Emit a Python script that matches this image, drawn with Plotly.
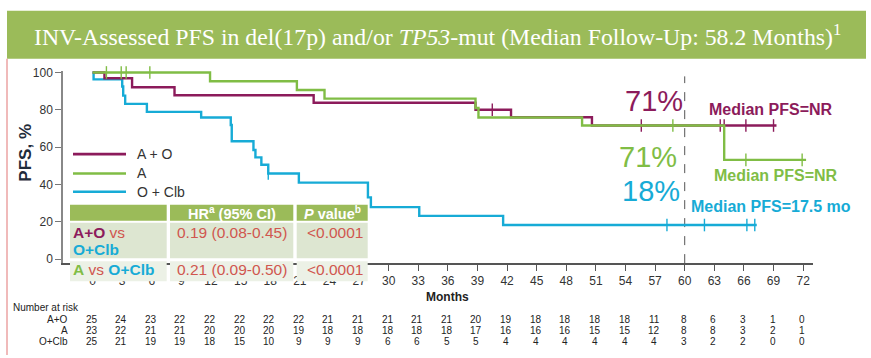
import plotly.graph_objects as go

W, H = 871, 358

# ---------------- data ----------------
month_ticks = list(range(0, 73, 3))
pfs_ticks = [0, 20, 40, 60, 80, 100]
pfs_tick_text = ["0", "20", "40", "60", "80", "100"]

series_names = ["A + O", "A", "O + Clb"]

ao_time = [0, 1.2, 4.0, 8.3, 22.4, 38.8, 42.4, 50.6, 69.3]
ao_pfs = [100, 96.9, 92.1, 87.8, 83.8, 80.0, 76.0, 71.6, 71.6]
ao_cens = [40.5, 55.6, 63.6, 64.0, 66.2, 69.0]

a_time = [0, 11.9, 20.7, 23.5, 38.8, 39.1, 49.6, 64.0, 72.3]
a_pfs = [100, 95.3, 90.6, 86.0, 81.0, 75.9, 71.6, 53.2, 53.2]
a_cens = [1.4, 2.9, 3.4, 5.8, 58.8, 66.2, 71.9]

oc_time = [0, 0.1, 3.0, 3.1, 3.3, 5.5, 11.0, 14.0, 14.1, 16.3, 16.5, 17.1, 17.8,
           20.9, 27.9, 28.2, 33.1, 41.6, 67.3]
oc_pfs = [100, 96.3, 92.5, 87.6, 83.2, 78.9, 75.9, 71.9, 63.2, 58.5, 54.5, 50.6, 45.9,
          41.0, 33.1, 27.9, 23.2, 18.3, 18.3]
oc_cens = [17.8, 58.2, 62.0, 66.3, 67.1]

risk_labels = ["A+O", "A", "O+Clb"]
risk_ao = [25, 24, 23, 22, 22, 22, 22, 22, 21, 21, 21, 21, 21, 20, 19, 18, 18, 18, 18, 11, 8, 6, 3, 1, 0]
risk_a = [23, 22, 21, 21, 20, 20, 20, 19, 18, 18, 18, 18, 18, 17, 16, 16, 16, 15, 15, 12, 8, 8, 3, 2, 1]
risk_oc = [25, 21, 19, 19, 18, 15, 10, 9, 9, 9, 6, 6, 5, 5, 4, 4, 4, 4, 4, 4, 3, 2, 2, 0, 0]

pct_labels = ["71%", "71%", "18%"]
median_labels = ["Median PFS=NR", "Median PFS=NR", "Median PFS=17.5 mo"]

hr_rows = [("0.19 (0.08-0.45)", "<0.0001"), ("0.21 (0.09-0.50)", "<0.0001")]

# ---------------- style ----------------
MAROON = "#8c1b5b"
GREEN = "#80bd45"
CYAN = "#17abd6"
SALMON = "#d0564f"
HEAD = "#9bbb59"
colors = [MAROON, GREEN, CYAN]
NARROW = "Liberation Sans Narrow, Arial Narrow, Liberation Sans, Arial"
SANS = "Liberation Sans, Arial"


def px(x):
    return x / W


def py(y):
    return 1 - y / H


def step_value(times, vals, t):
    v = vals[0]
    for ti, vi in zip(times, vals):
        if ti <= t:
            v = vi
    return v


annotations = []
shapes = []


def txt(x, y, text, size, color, family=SANS, xanchor="center", xref="paper", **kw):
    annotations.append(dict(xref=xref, yref="paper", x=x if xref != "paper" else px(x), y=py(y),
                            xanchor=xanchor, yanchor="middle", showarrow=False, text=text, borderpad=0,
                            font=dict(family=family, size=size, color=color), **kw))


fig = go.Figure()

# draw order: cyan, maroon, green (green over maroon as in reference)
for name, t, s, c, col in [
    (series_names[2], oc_time, oc_pfs, oc_cens, CYAN),
    (series_names[0], ao_time, ao_pfs, ao_cens, MAROON),
    (series_names[1], a_time, a_pfs, a_cens, GREEN),
]:
    fig.add_trace(go.Scatter(x=t, y=s, mode="lines", line=dict(color=col, width=2.4, shape="hv"),
                             name=name, cliponaxis=False, hoverinfo="skip"))
    fig.add_trace(go.Scatter(x=c, y=[step_value(t, s, ci) for ci in c], mode="markers",
                             marker=dict(symbol="line-ns", size=9, line=dict(color=col, width=1.4)),
                             cliponaxis=False, showlegend=False, hoverinfo="skip"))

# header band and title
shapes.append(dict(type="rect", xref="paper", yref="paper", x0=px(7), x1=px(866), y0=py(55), y1=py(6),
                   fillcolor=HEAD, line=dict(width=0), layer="above"))
txt(437, 31, "INV-Assessed PFS in del(17p) and/or <i>TP53</i>-mut (Median Follow-Up: 58.2 Months)<sup>1</sup>",
    23.8, "white", family="Liberation Serif, Times New Roman")
# left border
shapes.append(dict(type="line", xref="paper", yref="paper", x0=px(7), x1=px(7), y0=py(55), y1=0,
                   line=dict(color="#eba3a3", width=1.5), layer="above"))

# dashed vertical at 60 months
shapes.append(dict(type="line", xref="x", yref="paper", x0=60, x1=60, y0=py(264), y1=py(73),
                   line=dict(color="#555555", width=1, dash="dash"), layer="below"))

# y title
txt(26, 151, "<b>PFS, %</b>", 17, "#1f2b3a", family=NARROW, textangle=-90)

# legend
for i, (nm, col) in enumerate(zip(series_names, colors)):
    yy = [152.5, 172.3, 191][i]
    shapes.append(dict(type="line", xref="paper", yref="paper", x0=px(73), x1=px(126), y0=py(yy), y1=py(yy),
                       line=dict(color=col, width=2.6), layer="above"))
    txt(136, yy, nm, 14, "#333333", xanchor="left")

# HR table
cols = [(70, 166.7), (170, 293.3), (296.7, 367.7)]
rows = [(204.3, 220.7, HEAD), (222.7, 259, "#dde6d1"), (262, 282.5, "#ecf1e6")]
for (y0, y1, fc) in rows:
    for (x0, x1) in cols:
        shapes.append(dict(type="rect", xref="paper", yref="paper", x0=px(x0), x1=px(x1), y0=py(y1), y1=py(y0),
                           fillcolor=fc, line=dict(width=0), layer="above"))
txt(232, 212.5, "<b>HR<sup>a</sup> (95% CI)</b>", 14.5, "white")
txt(332, 212.5, "<b><i>P</i> value<sup>b</sup></b>", 14.5, "white")
txt(72, 232.5, f"<b><span style='color:{MAROON}'>A+O</span></b> vs", 15.5, SALMON, xanchor="left")
txt(72, 250.5, "<b>O+Clb</b>", 15.5, CYAN, xanchor="left")
txt(72, 271, f"<b><span style='color:{GREEN}'>A</span></b> vs <b><span style='color:{CYAN}'>O+Clb</span></b>",
    15.5, SALMON, xanchor="left")
for (hr, pv), yy in zip(hr_rows, [232.5, 271]):
    txt(232, yy, hr, 15.5, SALMON)
    txt(334.5, yy, pv, 15.5, SALMON)

# right-hand landmark labels
pct_pos = [(654, 98), (648, 155), (651, 190)]
med_pos = [(708, 106.5), (713, 174), (690, 206)]
for lab, med, col, (xp, yp), (xm, ym) in zip(pct_labels, median_labels, colors, pct_pos, med_pos):
    txt(xp, yp, lab, 29, col)
    txt(xm, ym, f"<b>{med}</b>", 16, col, xanchor="left")

# x title
txt(36, 299, "<b>Months</b>", 12, "#222222", family=NARROW, xref="x")

# number at risk
txt(12, 309, "Number at risk", 10, "#222222", family=NARROW, xanchor="left")
for lab, vals, yy in zip(risk_labels, [risk_ao, risk_a, risk_oc], [321.5, 333, 344]):
    txt(69, yy, lab, 10, "#222222", family=NARROW, xanchor="right")
    for m, v in zip(month_ticks, vals):
        txt(m, yy, str(v), 10, "#222222", family=NARROW, xref="x", xshift=-1)

fig.update_layout(
    width=W, height=H, margin=dict(l=0, r=0, t=0, b=0),
    paper_bgcolor="white", plot_bgcolor="white", showlegend=False,
    shapes=shapes, annotations=annotations,
    xaxis=dict(domain=[px(63), px(813)], range=[-3, 73], tickvals=month_ticks,
               ticktext=[str(m) for m in month_ticks], showgrid=False, zeroline=False,
               showline=True, linecolor="#555555", linewidth=1.5, ticks="outside", ticklen=6,
               tickcolor="#555555", tickwidth=1, tickfont=dict(family=NARROW, size=12, color="#333333")),
    yaxis=dict(domain=[py(264), py(67)], range=[-2.09, 101.05], tickvals=pfs_ticks, ticktext=pfs_tick_text,
               showgrid=False, zeroline=False, showline=True, linecolor="#888888", linewidth=1.5,
               ticks="outside", ticklen=6, tickcolor="#777777", tickwidth=1,
               tickfont=dict(family=NARROW, size=12, color="#333333")),
)

fig.write_html("out.html")
